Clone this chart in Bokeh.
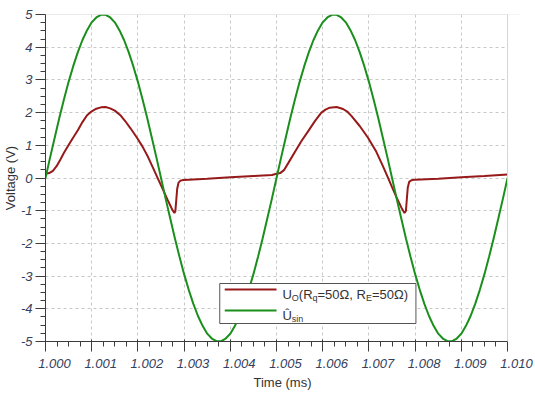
from bokeh.plotting import figure
from bokeh.models import (Range1d, FixedTicker, BoxAnnotation, Label, LinearAxis, Title,
                          CustomJSTickFormatter, Span)
from bokeh.embed import file_html
from bokeh.resources import INLINE

# ---------------- data ----------------
t_sin = [1.0000, 1.0001, 1.0002, 1.0003, 1.0004, 1.0005, 1.0006, 1.0007, 1.0008, 1.0009,
         1.0010, 1.0011, 1.0012, 1.0013, 1.0014, 1.0015, 1.0016, 1.0017, 1.0018, 1.0019,
         1.0020, 1.0021, 1.0022, 1.0023, 1.0024, 1.0025, 1.0026, 1.0027, 1.0028, 1.0029,
         1.0030, 1.0031, 1.0032, 1.0033, 1.0034, 1.0035, 1.0036, 1.0037, 1.0038, 1.0039,
         1.0040, 1.0041, 1.0042, 1.0043, 1.0044, 1.0045, 1.0046, 1.0047, 1.0048, 1.0049,
         1.0050, 1.0051, 1.0052, 1.0053, 1.0054, 1.0055, 1.0056, 1.0057, 1.0058, 1.0059,
         1.0060, 1.0061, 1.0062, 1.0063, 1.0064, 1.0065, 1.0066, 1.0067, 1.0068, 1.0069,
         1.0070, 1.0071, 1.0072, 1.0073, 1.0074, 1.0075, 1.0076, 1.0077, 1.0078, 1.0079,
         1.0080, 1.0081, 1.0082, 1.0083, 1.0084, 1.0085, 1.0086, 1.0087, 1.0088, 1.0089,
         1.0090, 1.0091, 1.0092, 1.0093, 1.0094, 1.0095, 1.0096, 1.0097, 1.0098, 1.0099,
         1.0100]
u_sin = [0.00, 0.63, 1.24, 1.84, 2.41, 2.94, 3.42, 3.85, 4.22, 4.52,
         4.76, 4.91, 4.99, 4.99, 4.91, 4.76, 4.52, 4.22, 3.85, 3.42,
         2.94, 2.41, 1.84, 1.24, 0.63, 0.00, -0.63, -1.24, -1.84, -2.41,
         -2.94, -3.42, -3.85, -4.22, -4.52, -4.76, -4.91, -4.99, -4.99, -4.91,
         -4.76, -4.52, -4.22, -3.85, -3.42, -2.94, -2.41, -1.84, -1.24, -0.63,
         0.00, 0.63, 1.24, 1.84, 2.41, 2.94, 3.42, 3.85, 4.22, 4.52,
         4.76, 4.91, 4.99, 4.99, 4.91, 4.76, 4.52, 4.22, 3.85, 3.42,
         2.94, 2.41, 1.84, 1.24, 0.63, 0.00, -0.63, -1.24, -1.84, -2.41,
         -2.94, -3.42, -3.85, -4.22, -4.52, -4.76, -4.91, -4.99, -4.99, -4.91,
         -4.76, -4.52, -4.22, -3.85, -3.42, -2.94, -2.41, -1.84, -1.24, -0.63,
         0.00]

t_out = [1.00000, 1.00008, 1.00016, 1.00024, 1.00032, 1.00040, 1.00050, 1.00060, 1.00070, 1.00080,
         1.00090, 1.00100, 1.00110, 1.00120, 1.00130, 1.00140, 1.00150, 1.00162, 1.00172, 1.00184,
         1.00198, 1.00210, 1.00222, 1.00234, 1.00244, 1.00254, 1.00266, 1.00274, 1.00279, 1.00281,
         1.00283, 1.00285, 1.00288, 1.00292, 1.00298, 1.00310, 1.00350, 1.00400, 1.00450, 1.00490,
         1.00500, 1.00508, 1.00516, 1.00526, 1.00540, 1.00554, 1.00569, 1.00583, 1.00597, 1.00606,
         1.00615, 1.00630, 1.00644, 1.00654, 1.00662, 1.00680, 1.00698, 1.00716, 1.00730, 1.00740,
         1.00750, 1.00760, 1.00770, 1.00777, 1.00780, 1.00782, 1.00784, 1.00787, 1.00792, 1.00800,
         1.00850, 1.00900, 1.00950, 1.01000]
u_out = [0.13, 0.15, 0.22, 0.36, 0.56, 0.77, 1.01, 1.24, 1.46, 1.71,
         1.92, 2.04, 2.12, 2.16, 2.17, 2.13, 2.06, 1.92, 1.75, 1.52,
         1.23, 0.96, 0.64, 0.27, -0.04, -0.35, -0.72, -0.96, -1.07, -1.02,
         -0.68, -0.33, -0.14, -0.08, -0.06, -0.05, -0.02, 0.02, 0.06, 0.09,
         0.13, 0.15, 0.24, 0.47, 0.80, 1.13, 1.44, 1.74, 2.00, 2.09,
         2.15, 2.17, 2.11, 2.02, 1.90, 1.59, 1.23, 0.80, 0.37, 0.05,
         -0.28, -0.60, -0.90, -1.07, -1.01, -0.65, -0.30, -0.12, -0.07, -0.05,
         -0.02, 0.02, 0.06, 0.11]

x_ticks = [1.000, 1.001, 1.002, 1.003, 1.004, 1.005, 1.006, 1.007, 1.008, 1.009, 1.010]
x_tick_labels = ["1.000", "1.001", "1.002", "1.003", "1.004", "1.005",
                 "1.006", "1.007", "1.008", "1.009", "1.010"]
y_ticks = [-5, -4, -3, -2, -1, 0, 1, 2, 3, 4, 5]
y_tick_labels = ["-5", "-4", "-3", "-2", "-1", "0", "1", "2", "3", "4", "5"]

x_title = "Time (ms)"
y_title = "Voltage (V)"
legend_row1 = [("U", False), ("O", True), ("(R", False), ("q", True),
               ("=50Ω, R", False), ("E", True), ("=50Ω)", False)]
legend_row2 = [("Û", False), ("sin", True)]

# ---------------- layout ----------------
W, H = 533, 392
X0, X1, Y0, Y1 = 1.000, 1.010, -5.0, 5.0
ML, MT, MB = 43, 14, 51
PX_PLOT = 464                 # pixel width of the visible plot area (1.000 .. 1.010)
EXTRA = 12                    # frame extends a little further, room for the shifted last label
FW = PX_PLOT + EXTRA
MR = W - ML - FW
FH = H - MT - MB
XE = X1 + EXTRA / PX_PLOT * (X1 - X0)

def xd(px):  # page pixel -> data x
    return X0 + (px - ML) / PX_PLOT * (X1 - X0)

def yd(py):  # page pixel -> data y
    return Y1 - (py - MT) / FH * (Y1 - Y0)

RED = "#961a1a"
GREEN = "#1b8f1b"
TXT = "#333333"
TICKTXT = "#34405c"
AXC = "#3c3c3c"
EDGE = "#d4d4d4"
FONT = "Liberation Sans"

p = figure(width=W, height=H, output_backend="svg", toolbar_location=None,
           x_range=Range1d(X0, XE), y_range=Range1d(Y0, Y1),
           min_border_left=ML, min_border_right=MR, min_border_top=MT, min_border_bottom=MB,
           background_fill_color="white", border_fill_color="white")
p.outline_line_color = None

x_minor = [X0 + i * 0.00025 for i in range(41)]
y_minor = [Y0 + i * 0.25 for i in range(41)]
p.xaxis.ticker = FixedTicker(ticks=x_ticks, minor_ticks=x_minor)
p.yaxis.ticker = FixedTicker(ticks=y_ticks, minor_ticks=y_minor)
p.xaxis.bounds = (X0, X1)
p.xaxis.formatter = CustomJSTickFormatter(code="return '';")
p.xaxis.major_label_text_font_size = "1px"
p.xaxis.major_label_standoff = 0
p.yaxis.formatter = CustomJSTickFormatter(args=dict(labels=y_tick_labels),
                                          code="return labels[index];")

for ax in (p.xaxis[0], p.yaxis[0]):
    ax.axis_line_color = AXC
    ax.major_tick_line_color = AXC
    ax.minor_tick_line_color = AXC
    ax.major_tick_out = 10
    ax.major_tick_in = 0
    ax.minor_tick_out = 5
    ax.minor_tick_in = 0
p.xaxis.major_tick_in = 2

p.yaxis.major_label_text_font = FONT
p.yaxis.major_label_text_font_style = "italic"
p.yaxis.major_label_text_font_size = "13px"
p.yaxis.major_label_text_color = TICKTXT
p.yaxis.major_label_standoff = 3

for g in (p.xgrid[0], p.ygrid[0]):
    g.grid_line_color = "#c8c8c8"
    g.grid_line_dash = "3 3"
    g.grid_line_width = 1

# extra axis carrying the x tick labels, shifted 9 px to the right as in the reference
shift = 9 / PX_PLOT * (X1 - X0)
p.extra_x_ranges = {"lab": Range1d(X0 - shift, XE - shift)}
lab_axis = LinearAxis(x_range_name="lab",
                      ticker=FixedTicker(ticks=x_ticks, minor_ticks=[]),
                      formatter=CustomJSTickFormatter(args=dict(labels=x_tick_labels),
                                                      code="return labels[index];"),
                      axis_line_alpha=0, major_tick_line_alpha=0, minor_tick_line_alpha=0,
                      major_tick_out=0, major_tick_in=0, minor_tick_out=0, minor_tick_in=0,
                      major_label_standoff=7,
                      major_label_text_font=FONT, major_label_text_font_style="italic",
                      major_label_text_font_size="13px", major_label_text_color=TICKTXT)
p.add_layout(lab_axis, "below")

# axis titles
p.add_layout(Title(text=x_title, align="center", offset=13 + EXTRA / 2, standoff=4,
                   text_font=FONT, text_font_style="normal", text_font_size="13px",
                   text_color=TXT), "below")
p.add_layout(Title(text=y_title, align="center", offset=4, standoff=0,
                   text_font=FONT, text_font_style="normal", text_font_size="13px",
                   text_color=TXT), "left")

# ---------------- series ----------------
p.line(t_out, u_out, line_color=RED, line_width=2)
p.line(t_sin, u_sin, line_color=GREEN, line_width=2)

# plot edge on the top and right, and blank strip right of 1.010
p.add_layout(Span(location=Y1, dimension="width", line_color=EDGE, line_width=1))
p.add_layout(BoxAnnotation(left=X1, right=XE + 1, bottom=Y0 - 1, top=Y1 + 1,
                           fill_color="white", fill_alpha=1.0, line_color=None))
p.add_layout(Span(location=X1, dimension="height", line_color=EDGE, line_width=1))

# ---------------- legend (manual, to allow subscripts) ----------------
p.add_layout(BoxAnnotation(left=xd(218), right=xd(415), top=yd(283), bottom=yd(323),
                           fill_color="white", fill_alpha=1.0,
                           line_color="#555555", line_width=1, line_alpha=1.0))
r1 = p.line([xd(223), xd(275)], [yd(289), yd(289)], line_color=RED, line_width=2)
r2 = p.line([xd(223), xd(275)], [yd(310), yd(310)], line_color=GREEN, line_width=2)
r1.level = "overlay"
r2.level = "overlay"

CW = {"U": .722, "O": .778, "(": .333, ")": .333, "R": .722, "q": .556, "=": .584,
      "5": .556, "0": .556, "Ω": .768, ",": .278, " ": .278, "E": .667, "Û": .722,
      "s": .5, "i": .222, "n": .556}
MAIN, SUB = 13, 9

def put_row(pieces, x_px, base_px):
    cur = x_px
    for txt, sub in pieces:
        size = SUB if sub else MAIN
        yb = base_px + (3 if sub else 0)
        p.add_layout(Label(x=xd(cur), y=yd(yb), text=txt, text_align="left",
                           text_baseline="alphabetic", text_font=FONT,
                           text_font_size=f"{size}px", text_color=TXT))
        cur += sum(CW.get(c, 0.56) for c in txt) * size

put_row(legend_row1, 281, 294)
put_row(legend_row2, 281, 315)

open("out.html", "w").write(file_html(p, INLINE))
